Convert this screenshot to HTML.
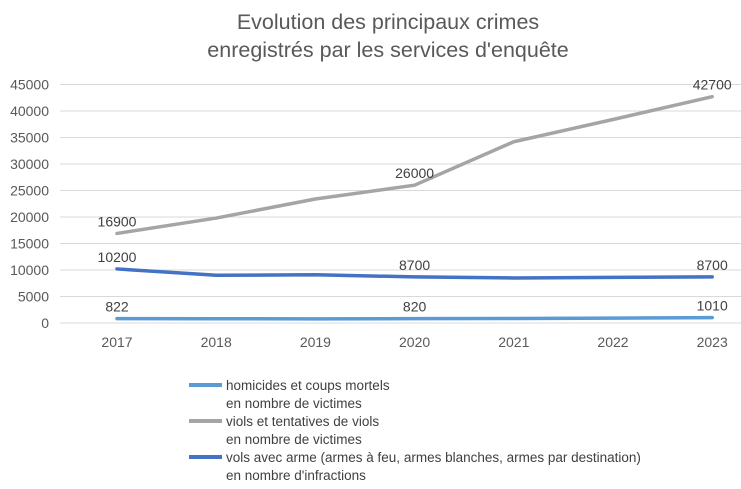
<!DOCTYPE html>
<html><head><meta charset="utf-8"><style>
body{margin:0;background:#fff;font-family:"Liberation Sans",sans-serif}
</style></head><body>
<svg id="chart" width="741" height="484" xmlns="http://www.w3.org/2000/svg" font-family="Liberation Sans, sans-serif">
<text x="388" y="29" text-anchor="middle" font-size="21.5" fill="#595959">Evolution des principaux crimes</text>
<text x="388" y="57" text-anchor="middle" font-size="21.5" fill="#595959">enregistrés par les services d'enquête</text>
<g id="grid"></g><g id="series"></g><g id="labels"></g>
<g font-size="13.5" fill="#404040">
<line x1="189" y1="385" x2="222" y2="385" stroke="#5B9BD5" stroke-width="4"/>
<text x="226" y="390">homicides et coups mortels</text>
<text x="226" y="408">en nombre de victimes</text>
<line x1="189" y1="421" x2="222" y2="421" stroke="#A5A5A5" stroke-width="4"/>
<text x="226" y="426">viols et tentatives de viols</text>
<text x="226" y="444">en nombre de victimes</text>
<line x1="189" y1="457" x2="222" y2="457" stroke="#4472C4" stroke-width="4"/>
<text x="226" y="462">vols avec arme (armes à feu, armes blanches, armes par destination)</text>
<text x="226" y="480">en nombre d'infractions</text>
</g>
</svg>
<script>
const years=["2017","2018","2019","2020","2021","2022","2023"];
const homicides=[822,800,790,820,860,930,1010];
const viols=[16900,19800,23400,26000,34200,38400,42700];
const vols=[10200,9000,9100,8700,8500,8600,8700];
const yTicks=[0,5000,10000,15000,20000,25000,30000,35000,40000,45000];
const NS="http://www.w3.org/2000/svg";
const x=i=>117+i*99.2;
const y=v=>323-v*(238.5/45000);
function mk(t,a,p){const e=document.createElementNS(NS,t);for(const k in a)e.setAttribute(k,a[k]);p.appendChild(e);return e;}
const grid=document.getElementById('grid'),ser=document.getElementById('series'),lab=document.getElementById('labels');
yTicks.forEach(v=>{
 const l=mk('line',{x1:60,x2:745,y1:y(v),y2:y(v),stroke:'#D9D9D9','stroke-width':1},grid);
 
 
 const t=mk('text',{x:49,y:y(v)+5,'text-anchor':'end','font-size':14,fill:'#595959'},grid);
 t.textContent=v;
 
 
});
years.forEach((yr,i)=>{
 const t=mk('text',{x:x(i),y:347,'text-anchor':'middle','font-size':14,fill:'#595959'},grid);
 t.textContent=yr;
 
 
});
function line(data,color,name,labelIdx){
 const p=mk('polyline',{points:data.map((v,i)=>x(i)+','+y(v)).join(' '),fill:'none',stroke:color,'stroke-width':3.5,'stroke-linejoin':'round','stroke-linecap':'round'},ser);
 
 
 labelIdx.forEach(i=>{
  const t=mk('text',{x:x(i),y:y(data[i])-7,'text-anchor':'middle','font-size':14,fill:'#404040'},lab);
  t.textContent=data[i];
  
  
 });
}
line(homicides,'#5B9BD5','series-homicides',[0,3,6]);
line(viols,'#A5A5A5','series-viols',[0,3,6]);
line(vols,'#4472C4','series-vols',[0,3,6]);
</script>
</body></html>
